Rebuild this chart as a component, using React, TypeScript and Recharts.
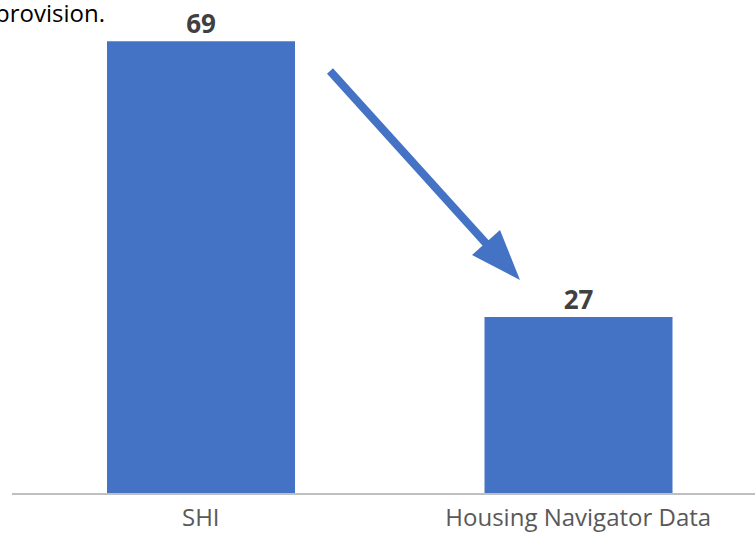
import React from "react";
import { BarChart, Bar, XAxis, YAxis, LabelList } from "recharts";

const categories = ["SHI", "Housing Navigator Data"];
const values = [69, 27];
const yDomainMax = 75;

const data = categories.map((name, i) => ({ name, value: values[i] }));

export default function App() {
  return (
    <div style={{ position: "absolute", left: 0, top: 0, width: 755, height: 536, overflow: "hidden", background: "#fff" }}>
      <BarChart
        width={767}
        height={536}
        data={data}
        margin={{ top: 2, right: 0, bottom: 0, left: 12 }}
      >
        <XAxis
          dataKey="name"
          height={42}
          tickLine={false}
          axisLine={{ stroke: "#bfbfbf", strokeWidth: 2 }}
          tick={{ fill: "#595959", fontSize: 24, fontFamily: "Open Sans" }}
          tickMargin={9}
          interval={0}
        />
        <YAxis hide domain={[0, yDomainMax]} />
        <Bar dataKey="value" fill="#4472c4" barSize={188} isAnimationActive={false}>
          <LabelList
            dataKey="value"
            position="top"
            offset={8}
            fill="#404040"
            fontSize={26}
            fontWeight="bold"
            fontFamily="Open Sans"
          />
        </Bar>
      </BarChart>
      <svg
        width={755}
        height={536}
        style={{ position: "absolute", left: 0, top: 0, pointerEvents: "none" }}
      >
        <text x={-5} y={22} fontSize={24} fontFamily="Open Sans" fill="#000">
          provision.
        </text>
        <line x1={330} y1={71} x2={492} y2={250} stroke="#4472c4" strokeWidth={8} />
        <polygon points="472,255 500,230 520,280" fill="#4472c4" />
      </svg>
    </div>
  );
}
